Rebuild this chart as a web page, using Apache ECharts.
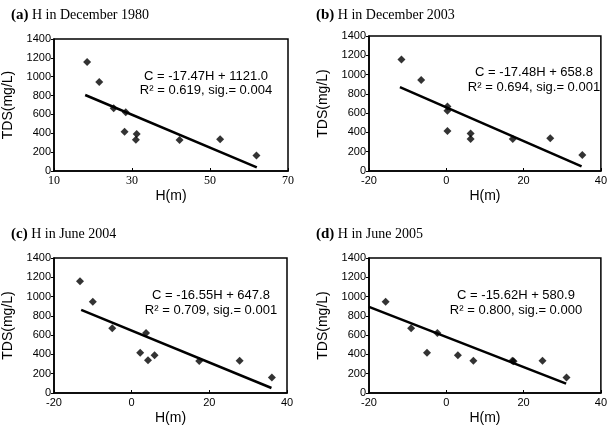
<!DOCTYPE html>
<html>
<head>
<meta charset="utf-8">
<script src="https://cdn.jsdelivr.net/npm/echarts@6/dist/echarts.min.js"></script>
<style>
  html, body { margin: 0; padding: 0; background: #fff; }
  #chart { width: 610px; height: 433px; }
</style>
</head>
<body>
<div id="chart"></div>
<script>
// panel titles
var panelTags = ['(a)', '(b)', '(c)', '(d)'];
var panelTitles = ['H in December 1980', 'H in December 2003', 'H in June 2004', 'H in June 2005'];

// water level H (m) and TDS (mg/L) per survey
var hDec1980 = [18.5, 21.6, 25.3, 28.4, 28.1, 31.0, 31.2, 42.2, 52.6, 61.9];
var tdsDec1980 = [1155, 945, 665, 623, 416, 332, 392, 329, 336, 164];
var hDec2003 = [-11.6, -6.5, 0.3, 0.3, 0.3, 6.3, 6.3, 17.2, 26.9, 35.2];
var tdsDec2003 = [1156, 944, 669, 625, 415, 388, 333, 333, 340, 165];
var hJun2004 = [-13.3, -10.0, -5.0, 3.7, 2.2, 4.2, 5.9, 17.4, 27.8, 36.1];
var tdsJun2004 = [1160, 947, 671, 622, 418, 339, 391, 332, 335, 162];
var hJun2005 = [-15.7, -9.1, -5.0, -2.3, 3.0, 7.0, 17.1, 17.4, 24.9, 31.1];
var tdsJun2005 = [947, 671, 418, 622, 391, 335, 335, 328, 335, 162];

// regression line end points
var fitH1980 = [18, 62], fitC1980 = [806, 38];
var fitH2003 = [-12, 35], fitC2003 = [869, 47];
var fitH2004 = [-13, 36], fitC2004 = [863, 52];
var fitH2005 = [-20, 31], fitC2005 = [893, 97];

// equation labels
var eqLine1 = ['C = -17.47H + 1121.0', 'C = -17.48H + 658.8', 'C = -16.55H + 647.8', 'C = -15.62H + 580.9'];
var eqLine2 = ['R\u00b2 = 0.619, sig.= 0.004', 'R\u00b2 = 0.694, sig.= 0.001', 'R\u00b2 = 0.709, sig.= 0.001', 'R\u00b2 = 0.800, sig.= 0.000'];

// x axis ranges
var xMin = [10, -20, -20, -20];
var xMax = [70, 40, 40, 40];

var hList = [hDec1980, hDec2003, hJun2004, hJun2005];
var tdsList = [tdsDec1980, tdsDec2003, tdsJun2004, tdsJun2005];
var fitHList = [fitH1980, fitH2003, fitH2004, fitH2005];
var fitCList = [fitC1980, fitC2003, fitC2004, fitC2005];

// layout
var grids = [
  { left: 54, top: 39, width: 234, height: 132 },
  { left: 369, top: 36, width: 234, height: 135 },
  { left: 54, top: 258, width: 233, height: 135 },
  { left: 369, top: 258, width: 234, height: 135 }
];
var titlePos = [[6, 3], [311, 3], [6, 222], [311, 222]];
var eqPos = [[206, 76, 90], [534, 72, 87], [211, 295, 310], [516, 295, 310]];

var chart = echarts.init(document.getElementById('chart'));

var option = {
  backgroundColor: '#fff',
  animation: false,
  title: [],
  grid: [],
  xAxis: [],
  yAxis: [],
  series: [],
  graphic: []
};

for (var i = 0; i < 4; i++) {
  var g = grids[i];
  option.grid.push({
    left: g.left, top: g.top, width: g.width, height: g.height,
    show: true, borderColor: '#000', borderWidth: 1.5, backgroundColor: 'transparent'
  });

  option.title.push({
    left: titlePos[i][0], top: titlePos[i][1],
    text: '{b|' + panelTags[i] + '} ' + panelTitles[i],
    textStyle: {
      fontFamily: 'Liberation Serif', fontSize: 14, color: '#000', fontWeight: 'normal',
      rich: { b: { fontFamily: 'Liberation Serif', fontSize: 15, fontWeight: 'bold', color: '#000' } }
    }
  });

  option.xAxis.push({
    type: 'value', gridIndex: i,
    min: xMin[i], max: xMax[i], interval: 20,
    name: 'H(m)', nameLocation: 'middle', nameGap: 18,
    nameTextStyle: { fontFamily: 'Liberation Sans', fontSize: 14, color: '#000' },
    axisLine: { show: true, onZero: false, lineStyle: { color: '#000', width: 1.5 } },
    axisTick: { show: true, inside: true, length: 3, lineStyle: { color: '#000' } },
    axisLabel: {
      color: '#000', fontSize: i === 0 ? 12 : 11, margin: 4,
      fontFamily: i === 0 ? 'Liberation Serif' : 'Liberation Sans'
    },
    splitLine: { show: false }
  });

  option.yAxis.push({
    type: 'value', gridIndex: i,
    min: 0, max: 1400, interval: 200,
    name: 'TDS(mg/L)', nameLocation: 'middle', nameGap: 39,
    nameTextStyle: { fontFamily: 'Liberation Sans', fontSize: 14, color: '#000' },
    axisLine: { show: true, onZero: false, lineStyle: { color: '#000', width: 1.5 } },
    axisTick: { show: true, length: 3, lineStyle: { color: '#000' } },
    axisLabel: {
      color: '#000', fontSize: 11, margin: 3, fontFamily: 'Liberation Sans',
      formatter: function (v) { return String(v); }
    },
    splitLine: { show: false }
  });

  option.series.push({
    type: 'scatter', xAxisIndex: i, yAxisIndex: i,
    symbol: 'diamond', symbolSize: 8,
    itemStyle: { color: '#000' },
    data: hList[i].map(function (h, k) { return [h, tdsList[i][k]]; })
  });

  option.series.push({
    type: 'line', xAxisIndex: i, yAxisIndex: i,
    showSymbol: false, symbol: 'none',
    lineStyle: { color: '#000', width: 2.5 },
    data: fitHList[i].map(function (h, k) { return [h, fitCList[i][k]]; })
  });

  option.graphic.push({
    type: 'text', x: eqPos[i][0], y: eqPos[i][1],
    style: { text: eqLine1[i], fill: '#000', font: '13px "Liberation Sans"', align: 'center', verticalAlign: 'middle' }
  });
  option.graphic.push({
    type: 'text', x: eqPos[i][0], y: eqPos[i][2],
    style: { text: eqLine2[i], fill: '#000', font: '13px "Liberation Sans"', align: 'center', verticalAlign: 'middle' }
  });
}

chart.setOption(option);
</script>
</body>
</html>
